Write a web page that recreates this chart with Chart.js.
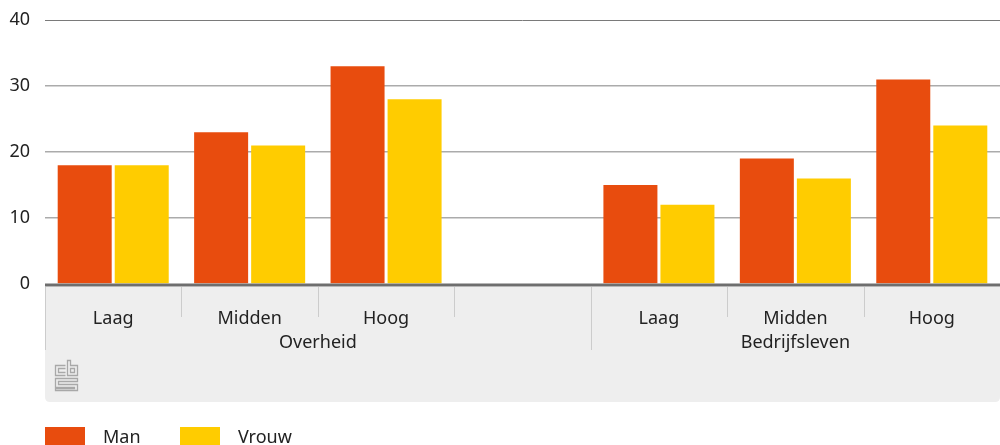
<!DOCTYPE html>
<html>
<head>
<meta charset="utf-8">
<script src="https://cdn.jsdelivr.net/npm/chart.js@4/dist/chart.umd.min.js"></script>
<style>
  html, body { margin: 0; padding: 0; background: #fff; }
  #wrap { width: 1000px; height: 445px; position: relative; }
</style>
</head>
<body>
<div id="wrap"><canvas id="c"></canvas></div>
<script>
const categories = ['Laag', 'Midden', 'Hoog', '', 'Laag', 'Midden', 'Hoog'];
const groupLabels = ['Overheid', 'Bedrijfsleven'];
const groupSpans = [[0, 3], [4, 6]];
const seriesNames = ['Man', 'Vrouw'];
const manValues = [18, 23, 33, null, 15, 19, 31];
const vrouwValues = [18, 21, 28, null, 12, 16, 24];
const yTicks = [0, 10, 20, 30, 40];

const COLORS = ['#e84c0e', '#ffcc00'];
const FONT = '"Noto Sans", sans-serif';
const TEXT = '#222222';

const overlay = {
  id: 'overlay',
  afterDatasetsDraw(chart) {
    const ctx = chart.ctx;
    const x = chart.scales.x, ca = chart.chartArea;
    const n = categories.length;
    const step = (ca.right - ca.left) / n;
    const boxTop = ca.bottom + 3;
    const boxBottom = 402;
    ctx.save();
    // grey panel
    ctx.fillStyle = '#eeeeee';
    ctx.beginPath();
    const r = 5;
    ctx.moveTo(ca.left, boxTop);
    ctx.lineTo(ca.right, boxTop);
    ctx.lineTo(ca.right, boxBottom - r);
    ctx.quadraticCurveTo(ca.right, boxBottom, ca.right - r, boxBottom);
    ctx.lineTo(ca.left + r, boxBottom);
    ctx.quadraticCurveTo(ca.left, boxBottom, ca.left, boxBottom - r);
    ctx.closePath();
    ctx.fill();
    // separators
    ctx.strokeStyle = '#cccccc';
    ctx.lineWidth = 1;
    for (let i = 0; i < n; i++) {
      const bx = Math.round(x.getPixelForValue(i) - step / 2) + 0.5;
      const isGroupEdge = groupSpans.some(s => s[0] === i);
      ctx.beginPath();
      ctx.moveTo(bx, boxTop);
      ctx.lineTo(bx, isGroupEdge ? 350 : 317);
      ctx.stroke();
    }
    // zero axis line
    ctx.strokeStyle = '#6e6e6e';
    ctx.lineWidth = 3;
    const y0 = chart.scales.y.getPixelForValue(0);
    ctx.beginPath();
    ctx.moveTo(ca.left, y0 + 1);
    ctx.lineTo(ca.right, y0 + 1);
    ctx.stroke();
    // category labels
    ctx.fillStyle = TEXT;
    ctx.font = '18px ' + FONT;
    ctx.textAlign = 'center';
    ctx.textBaseline = 'alphabetic';
    categories.forEach((c, i) => {
      if (c) ctx.fillText(c, x.getPixelForValue(i), 324);
    });
    groupLabels.forEach((g, i) => {
      const s = groupSpans[i];
      const cx = (x.getPixelForValue(s[0]) + x.getPixelForValue(s[1])) / 2;
      ctx.fillText(g, cx, 348);
    });
    // cbs logo (simple line drawing)
    ctx.strokeStyle = '#a8a8a8';
    ctx.lineWidth = 1.3;
    const lx = 55.5, ly = 360.5;
    ctx.beginPath();
    // c
    ctx.moveTo(lx + 10, ly + 5); ctx.lineTo(lx, ly + 5); ctx.lineTo(lx, ly + 15); ctx.lineTo(lx + 10, ly + 15);
    ctx.moveTo(lx + 10, ly + 8); ctx.lineTo(lx + 3, ly + 8); ctx.lineTo(lx + 3, ly + 12); ctx.lineTo(lx + 10, ly + 12);
    // b
    ctx.moveTo(lx + 12, ly); ctx.lineTo(lx + 12, ly + 15); ctx.lineTo(lx + 22, ly + 15); ctx.lineTo(lx + 22, ly + 5); ctx.lineTo(lx + 15, ly + 5); ctx.lineTo(lx + 15, ly); ctx.closePath();
    ctx.rect(lx + 15, ly + 8, 4, 4);
    // s
    ctx.moveTo(lx + 22, ly + 18); ctx.lineTo(lx, ly + 18); ctx.lineTo(lx, ly + 27); ctx.lineTo(lx + 19, ly + 27); ctx.lineTo(lx + 19, ly + 28); ctx.lineTo(lx, ly + 28); ctx.lineTo(lx, ly + 30); ctx.lineTo(lx + 22, ly + 30); ctx.lineTo(lx + 22, ly + 24); ctx.lineTo(lx + 3, ly + 24); ctx.lineTo(lx + 3, ly + 21); ctx.lineTo(lx + 22, ly + 21); ctx.closePath();
    ctx.stroke();
    // legend
    ctx.textAlign = 'left';
    ctx.textBaseline = 'alphabetic';
    const legX = [45, 180];
    chart.data.datasets.forEach((ds, i) => {
      ctx.fillStyle = ds.backgroundColor;
      ctx.fillRect(legX[i], 427, 40, 20);
      ctx.fillStyle = TEXT;
      ctx.fillText(ds.label, legX[i] + 58, 443);
    });
    ctx.restore();
  }
};

new Chart(document.getElementById('c'), {
  type: 'bar',
  data: {
    labels: categories,
    datasets: [
      { label: seriesNames[0], data: manValues, backgroundColor: COLORS[0] },
      { label: seriesNames[1], data: vrouwValues, backgroundColor: COLORS[1] }
    ]
  },
  options: {
    responsive: true,
    maintainAspectRatio: false,
    animation: false,
    devicePixelRatio: 1,
    layout: { padding: { top: 20, bottom: 161, left: 0, right: 0 } },
    datasets: { bar: { categoryPercentage: 0.836, barPercentage: 0.947 } },
    plugins: { legend: { display: false }, tooltip: { enabled: false } },
    scales: {
      x: { display: false },
      y: {
        min: 0, max: 40,
        afterFit(scale) { scale.width = 45; scale.paddingTop = 0; scale.paddingBottom = 0; },
        afterBuildTicks(scale) { scale.ticks = yTicks.map(v => ({ value: v })); },
        border: { display: false },
        grid: {
          drawTicks: false,
          color: ctx => ctx.tick && ctx.tick.value === 40 ? '#7a7a7a' : (ctx.tick && ctx.tick.value === 0 ? 'rgba(0,0,0,0)' : '#ababab'),
          lineWidth: ctx => ctx.tick && ctx.tick.value === 40 ? 1 : 1.5
        },
        ticks: { padding: 15, color: TEXT, font: { family: FONT, size: 18 } }
      }
    }
  },
  plugins: [overlay]
});
</script>
</body>
</html>
